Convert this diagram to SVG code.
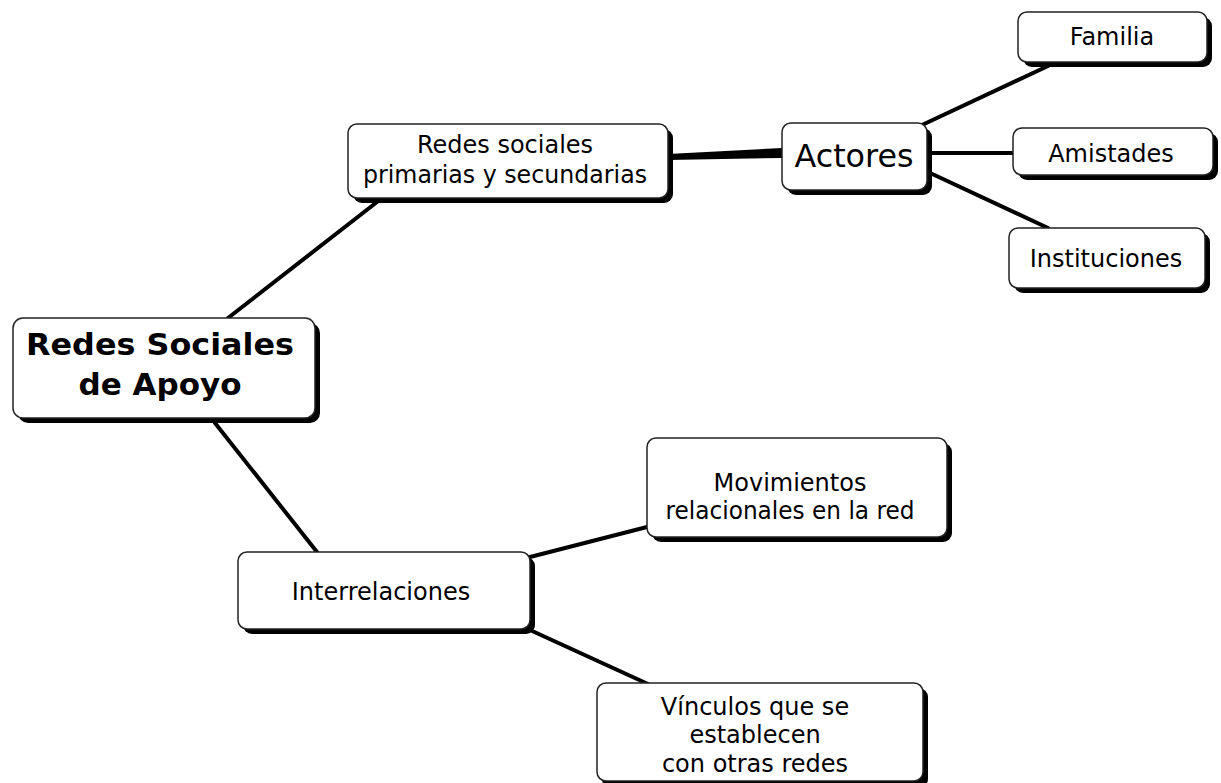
<svg xmlns="http://www.w3.org/2000/svg" width="1221" height="783" viewBox="0 0 1221 783">
<style>
.shadow{fill:#000}
.box{fill:#fff;stroke:#222;stroke-width:1.5}
.t{font-family:"DejaVu Sans","Verdana",sans-serif;font-size:24px;fill:#000;text-anchor:middle}
.big{font-family:"DejaVu Sans","Verdana",sans-serif;font-size:31px;font-weight:bold;fill:#000;text-anchor:middle}
.edge{stroke:#000;stroke-width:4;fill:none;stroke-linecap:round}
</style>
<rect width="1221" height="783" fill="#fff"/>
<g id="connectors">
<line class="edge" x1="228" y1="318" x2="377" y2="202"/>
<line class="edge" x1="215" y1="423" x2="317" y2="552"/>
<polygon points="668,154 782,148 782,158 668,160" fill="#000"/>
<line class="edge" x1="922" y1="125" x2="1048" y2="66"/>
<line class="edge" x1="930" y1="153" x2="1013" y2="153"/>
<line class="edge" x1="928" y1="172" x2="1048" y2="228"/>
<line class="edge" x1="530" y1="557" x2="647" y2="527"/>
<line class="edge" x1="530" y1="630" x2="648" y2="684"/>
</g>
<g id="n-main">
<rect class="shadow" x="18" y="323" width="302" height="100" rx="10"/>
<rect class="box" x="13" y="318" width="302" height="100" rx="10"/>
<text class="big" x="160" y="355" textLength="268" lengthAdjust="spacingAndGlyphs">Redes Sociales</text>
<text class="big" x="160" y="395">de Apoyo</text>
</g>
<g id="n-redes">
<rect class="shadow" x="353" y="129" width="320" height="74" rx="9"/>
<rect class="box" x="348" y="124" width="320" height="74" rx="9"/>
<text class="t" x="505" y="153">Redes sociales</text>
<text class="t" x="505" y="183" textLength="284" lengthAdjust="spacingAndGlyphs">primarias y secundarias</text>
</g>
<g id="n-actores">
<rect class="shadow" x="787" y="128" width="145" height="67" rx="9"/>
<rect class="box" x="782" y="123" width="145" height="67" rx="9"/>
<text class="t" x="854" y="167" style="font-size:32px" textLength="119" lengthAdjust="spacingAndGlyphs">Actores</text>
</g>
<g id="n-familia">
<rect class="shadow" x="1023" y="17" width="189" height="50" rx="9"/>
<rect class="box" x="1018" y="12" width="189" height="50" rx="9"/>
<text class="t" x="1112" y="45">Familia</text>
</g>
<g id="n-amistades">
<rect class="shadow" x="1018" y="133" width="200" height="47" rx="9"/>
<rect class="box" x="1013" y="128" width="200" height="47" rx="9"/>
<text class="t" x="1111" y="162">Amistades</text>
</g>
<g id="n-instituciones">
<rect class="shadow" x="1014" y="233" width="196" height="60" rx="9"/>
<rect class="box" x="1009" y="228" width="196" height="60" rx="9"/>
<text class="t" x="1106" y="267">Instituciones</text>
</g>
<g id="n-interrelaciones">
<rect class="shadow" x="243" y="557" width="292" height="77" rx="9"/>
<rect class="box" x="238" y="552" width="292" height="77" rx="9"/>
<text class="t" x="381" y="600">Interrelaciones</text>
</g>
<g id="n-movimientos">
<rect class="shadow" x="652" y="443" width="300" height="99" rx="9"/>
<rect class="box" x="647" y="438" width="300" height="99" rx="9"/>
<text class="t" x="790" y="491">Movimientos</text>
<text class="t" x="790" y="519" textLength="249" lengthAdjust="spacingAndGlyphs">relacionales en la red</text>
</g>
<g id="n-vinculos">
<rect class="shadow" x="602" y="688" width="326" height="100" rx="9"/>
<rect class="box" x="597" y="683" width="326" height="98" rx="9"/>
<text class="t" x="755" y="715">Vínculos que se</text>
<text class="t" x="755" y="743">establecen</text>
<text class="t" x="755" y="772">con otras redes</text>
</g>
</svg>
